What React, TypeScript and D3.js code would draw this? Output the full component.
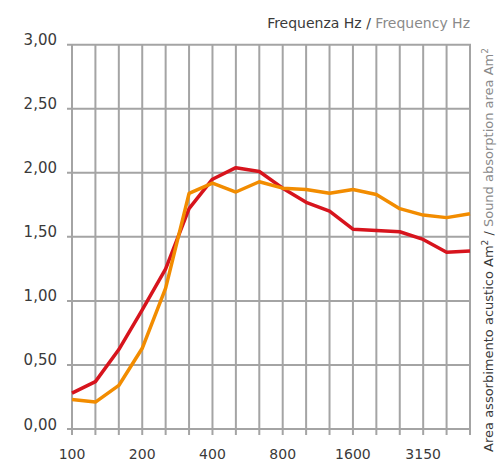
import React from "react";
import * as d3 from "d3";

const frequencies = [100, 125, 160, 200, 250, 315, 400, 500, 630, 800, 1000, 1250, 1600, 2000, 2500, 3150, 4000, 5000];
const redSeries = [0.28, 0.37, 0.62, 0.93, 1.25, 1.72, 1.95, 2.04, 2.01, 1.88, 1.77, 1.70, 1.56, 1.55, 1.54, 1.48, 1.38, 1.39];
const orangeSeries = [0.23, 0.21, 0.34, 0.63, 1.10, 1.84, 1.92, 1.85, 1.93, 1.88, 1.87, 1.84, 1.87, 1.83, 1.72, 1.67, 1.65, 1.68];
const yTicks = [0, 0.5, 1, 1.5, 2, 2.5, 3];
const xTickLabels = [100, 200, 400, 800, 1600, 3150];

const W = 500;
const H = 462;
const left = 72;
const right = 470;
const top = 44.7;
const bottom = 429;

const FONT = "'DejaVu Sans', sans-serif";
const GRID = "#a4a4a4";

export default function App() {
  const x = d3.scalePoint<number>().domain(frequencies).range([left, right]);
  const y = d3.scaleLinear().domain([0, 3]).range([bottom, top]);
  const line = d3
    .line<number>()
    .x((_, i) => x(frequencies[i]) as number)
    .y((d) => y(d));
  const fmt = (v: number) => v.toFixed(2).replace(".", ",");

  return (
    <svg width={W} height={H} style={{ position: "absolute", left: 0, top: 0 }} fontFamily={FONT}>
      <rect width={W} height={H} fill="#fff" />
      {frequencies.map((f) => (
        <line key={"v" + f} x1={x(f)} x2={x(f)} y1={top} y2={bottom + 6} stroke={GRID} strokeWidth={2} />
      ))}
      {yTicks.map((t) => (
        <line key={"h" + t} x1={left - 5} x2={right + 1} y1={y(t)} y2={y(t)} stroke={GRID} strokeWidth={2} />
      ))}
      {yTicks.map((t) => (
        <text key={"yl" + t} x={57} y={y(t) + 0.5} textAnchor="end" fontSize={15} fill="#3a3a3a">
          {fmt(t)}
        </text>
      ))}
      {xTickLabels.map((f) => (
        <text key={"xl" + f} x={x(f)} y={459} textAnchor="middle" fontSize={14} fill="#3a3a3a">
          {f}
        </text>
      ))}
      <path d={line(redSeries) || ""} fill="none" stroke="#d7141d" strokeWidth={3.5} strokeLinejoin="round" />
      <path d={line(orangeSeries) || ""} fill="none" stroke="#f28c00" strokeWidth={3.5} strokeLinejoin="round" />
      <text x={470} y={28} textAnchor="end" fontSize={14} fill="#3a3a3a">
        Frequenza Hz /<tspan fill="#8a8a8a"> Frequency Hz</tspan>
      </text>
      <text transform="translate(493,48) rotate(-90)" textAnchor="end" fontSize={13} fill="#3a3a3a">
        Area assorbimento acustico Am<tspan dy={-5} fontSize={9}>2</tspan>
        <tspan dy={5}> /</tspan>
        <tspan fill="#8a8a8a"> Sound absorption area Am</tspan>
        <tspan fill="#8a8a8a" dy={-5} fontSize={9}>2</tspan>
      </text>
    </svg>
  );
}
